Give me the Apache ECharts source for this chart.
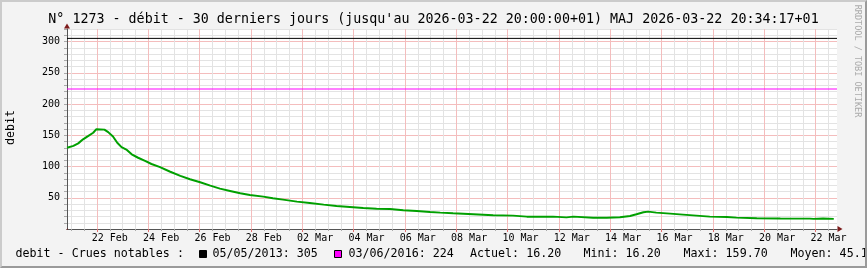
<!DOCTYPE html>
<html><head><meta charset="utf-8">
<script src="https://cdn.jsdelivr.net/npm/echarts@6/dist/echarts.min.js"></script>
<style>
html,body{margin:0;padding:0;background:#f3f3f3;}
#wrap{position:relative;width:867px;height:268px;box-sizing:border-box;background:#f3f3f3;border-top:2px solid #cbcbcb;border-left:2px solid #cbcbcb;border-right:2px solid #9a9a9a;border-bottom:2px solid #9a9a9a;overflow:hidden}
#chart{position:absolute;left:-2px;top:-2px;width:867px;height:268px;}
</style></head>
<body><div id="wrap"><div id="chart"></div></div>
<script>
// ---- data (hours since 2026-02-20 20:00, debit values) ----
const hours = [0, 6, 10.5, 15, 20, 24.5, 27.5, 35, 38.5, 43, 47, 51, 56, 60.5, 66.5, 73, 79, 87, 96, 106, 115, 124.5, 134, 143, 152.5, 162, 171, 183.5, 192.5, 202, 215, 227, 240, 252, 264.5, 277, 289.5, 302, 314.5, 327, 339.5, 349, 361, 380, 398.5, 417, 430, 454.5, 467, 473.5, 492, 504.5, 517, 526.5, 532.5, 539, 543.5, 551, 564, 576, 588.5, 601, 617, 626, 645, 667, 694.5, 698, 707, 717];
const debit = [130, 133, 137, 143.5, 149, 154, 159.7, 159, 155, 148, 138, 131, 126.5, 119.5, 114, 109, 104, 99, 92, 85, 79.5, 74.8, 69.4, 64.6, 60.9, 57.2, 54.5, 51.8, 49.2, 47, 43.8, 41.7, 39, 36.9, 35.3, 33.7, 32.5, 32, 30, 28.8, 27.2, 26.2, 25.1, 23.5, 21.9, 21.4, 19.8, 19.8, 18.6, 19.8, 17.9, 17.9, 18.7, 20.8, 23.5, 26.7, 27.8, 26.2, 24.6, 23, 21.4, 19.8, 19.2, 18.2, 17.2, 16.8, 16.6, 16.2, 16.8, 16.2];
const floodDates = ['05/05/2013', '03/06/2016'];
const floodValues = [305, 224];
const xLabels = ['22 Feb','24 Feb','26 Feb','28 Feb','02 Mar','04 Mar','06 Mar','08 Mar','10 Mar','12 Mar','14 Mar','16 Mar','18 Mar','20 Mar','22 Mar'];
const yLabels = [50, 100, 150, 200, 250, 300];
const stats = ['Actuel: 16.20', 'Mini: 16.20', 'Maxi: 159.70', 'Moyen: 45.1'];
const titleText = "N° 1273 - débit - 30 derniers jours (jusqu'au 2026-03-22 20:00:00+01) MAJ 2026-03-22 20:34:17+01";

// ---- axis helpers (time grid) ----
const X_MAX = 720, Y_MAX = 320;
const majorHours = [], minorHours = [], labelHours = [], yMinor = [];
for (let h = 28; h <= X_MAX; h += 48) majorHours.push(h);                          // midnights every 2 days
for (let h = 4; h <= X_MAX; h += 12) if ((h - 28) % 48 !== 0) minorHours.push(h);  // every 12h
xLabels.forEach((_, i) => labelHours.push(40 + 48 * i));                           // labels at noon
for (let v = 10; v <= Y_MAX; v += 10) if (v % 50 !== 0) yMinor.push(v);

const MONO = 'DejaVu Sans Mono';
const floodColors = ['#000000', '#ff00ff'];
const GREY = '#e3e3e3', RED = '#f4bdbd', AXIS = '#555555', ARROW = '#7d1b1b';

const baseX = {type: 'value', min: 0, max: X_MAX, position: 'bottom', gridIndex: 0,
  axisLine: {show: false, onZero: false}, axisTick: {show: false}, axisLabel: {show: false}, splitLine: {show: false}};
const baseY = {type: 'value', min: 0, max: Y_MAX, position: 'left', gridIndex: 0,
  axisLine: {show: false, onZero: false}, axisTick: {show: false}, axisLabel: {show: false}, splitLine: {show: false}};

const chart = echarts.init(document.getElementById('chart'), null, {renderer: 'canvas'});
const legendY = 254.2;
const F = '11.67px "' + MONO + '"';
const graphics = [
  {type: 'text', x: 433.5, y: 19.7, style: {text: titleText, font: '13.33px "' + MONO + '"', fill: '#000', align: 'center', verticalAlign: 'middle'}},
  {type: 'text', x: 11, y: 127.5, rotation: Math.PI / 2, style: {text: 'debit', font: F, fill: '#000', align: 'center', verticalAlign: 'middle'}},
  {type: 'text', x: 857.5, y: 61, rotation: -Math.PI / 2, style: {text: 'RRDTOOL / TOBI OETIKER', font: '8.5px "' + MONO + '"', fill: '#aaaaaa', align: 'center', verticalAlign: 'middle'}},
  {type: 'text', x: 15.5, y: legendY, style: {text: 'debit - Crues notables :', font: F, fill: '#000', verticalAlign: 'middle'}},
  {type: 'rect', shape: {x: 199.5, y: 250.5, width: 7, height: 7}, style: {fill: floodColors[0], stroke: '#000', lineWidth: 1}},
  {type: 'text', x: 212.5, y: legendY, style: {text: floodDates[0] + ': ' + floodValues[0], font: F, fill: '#000', verticalAlign: 'middle'}},
  {type: 'rect', shape: {x: 334.5, y: 250.5, width: 7, height: 7}, style: {fill: floodColors[1], stroke: '#000', lineWidth: 1}},
  {type: 'text', x: 348.5, y: legendY, style: {text: floodDates[1] + ': ' + floodValues[1], font: F, fill: '#000', verticalAlign: 'middle'}}
];
const statX = [470, 583.5, 683.5, 790.5];
stats.forEach((s, i) => graphics.push({type: 'text', x: statX[i], y: legendY, style: {text: s, font: F, fill: '#000', verticalAlign: 'middle'}}));

const floodSeries = floodValues.map((v, i) => ({
  type: 'line', xAxisIndex: 0, yAxisIndex: 0, z: 4, silent: true,
  data: [[0, v], [X_MAX, v]], showSymbol: false, symbol: 'none',
  lineStyle: {color: floodColors[i], width: 1}
}));

chart.setOption({
  animation: false,
  backgroundColor: 'transparent',
  grid: {left: 67, top: 29, right: 30, bottom: 39, show: true, backgroundColor: '#ffffff', borderWidth: 0, containLabel: false, outerBoundsMode: 'none'},
  xAxis: [
    Object.assign({}, baseX, {
      axisLine: {show: true, onZero: false, lineStyle: {color: AXIS, width: 1}},
      axisTick: {show: true, interval: 0, customValues: minorHours, length: 2, lineStyle: {color: '#aaaaaa'}},
      splitLine: {show: true, interval: 0, lineStyle: {color: GREY, width: 1, type: 'solid'}}
    }),
    Object.assign({}, baseX, {
      axisTick: {show: true, interval: 0, customValues: majorHours, length: 3, lineStyle: {color: '#e07070'}},
      splitLine: {show: true, interval: 0, lineStyle: {color: RED, width: 1, type: 'solid'}}
    }),
    Object.assign({}, baseX, {
      axisTick: {show: false, customValues: labelHours},
      axisLabel: {show: true, interval: 0, customValues: labelHours, margin: 4, color: '#000', fontFamily: MONO, fontSize: 10,
        formatter: v => xLabels[Math.round((v - 40) / 48)]}
    }),
    Object.assign({}, baseX, {
      axisLine: {show: true, onZero: false, symbol: ['none', 'triangle'], symbolSize: [6, 5], symbolOffset: [0, 3],
        lineStyle: {color: ARROW, width: 1, type: [0, 10000]}}
    })
  ],
  yAxis: [
    Object.assign({}, baseY, {
      axisLine: {show: true, onZero: false, lineStyle: {color: AXIS, width: 1}},
      axisTick: {show: true, interval: 0, customValues: yMinor, length: 3, lineStyle: {color: '#aaaaaa'}},
      splitLine: {show: true, interval: 0, lineStyle: {color: GREY, width: 1, type: 'solid'}}
    }),
    Object.assign({}, baseY, {
      axisTick: {show: true, interval: 0, customValues: yLabels, length: 3, lineStyle: {color: '#aaaaaa'}},
      axisLabel: {show: true, interval: 0, customValues: yLabels, margin: 7, color: '#000', fontFamily: MONO, fontSize: 10},
      splitLine: {show: true, interval: 0, lineStyle: {color: RED, width: 1, type: 'solid'}}
    }),
    Object.assign({}, baseY, {
      axisLine: {show: true, onZero: false, symbol: ['none', 'triangle'], symbolSize: [6, 5], symbolOffset: [0, 3],
        lineStyle: {color: ARROW, width: 1, type: [0, 10000]}}
    })
  ],
  series: floodSeries.concat([{
    type: 'line', xAxisIndex: 0, yAxisIndex: 0,
    data: hours.map((h, i) => [h, debit[i]]),
    showSymbol: false, symbol: 'none',
    lineStyle: {color: '#00a000', width: 2},
    z: 5
  }]),
  graphic: graphics
});
</script></body></html>
